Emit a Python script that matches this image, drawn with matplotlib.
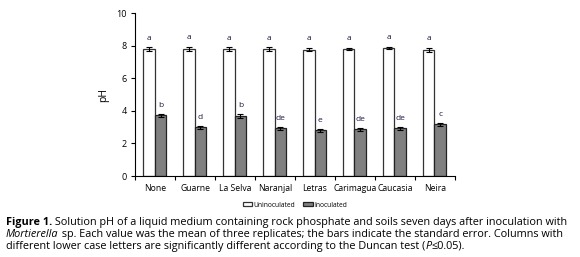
import matplotlib.pyplot as plt
import numpy as np

sites = ['None', 'Guarne', 'La Selva', 'Naranjal', 'Letras', 'Carimagua', 'Caucasia', 'Neira']
uninoc = [7.80, 7.80, 7.80, 7.80, 7.75, 7.80, 7.85, 7.75]
uninoc_se = [0.10, 0.12, 0.10, 0.10, 0.10, 0.08, 0.07, 0.12]
inoc = [3.72, 2.98, 3.68, 2.92, 2.80, 2.88, 2.94, 3.17]
inoc_se = [0.10, 0.08, 0.12, 0.07, 0.09, 0.09, 0.09, 0.07]
uninoc_letters = ['a'] * 8
inoc_letters = ['b', 'd', 'b', 'de', 'e', 'de', 'de', 'c']

plt.rcParams['font.family'] = ['Open Sans', 'DejaVu Sans']

fig = plt.figure(figsize=(5.8, 2.57), dpi=100)
ax = fig.add_axes([0.233, 0.315, 0.551, 0.634])

x = np.arange(len(sites))
w = 0.29
ax.bar(x - 0.155, uninoc, w, color='white', edgecolor='#333333', linewidth=0.9,
       yerr=uninoc_se, error_kw=dict(ecolor='black', elinewidth=0.8, capsize=2, capthick=0.8),
       label='Uninoculated')
ax.bar(x + 0.135, inoc, w, color='#808080', edgecolor='#222222', linewidth=0.9,
       yerr=inoc_se, error_kw=dict(ecolor='black', elinewidth=0.8, capsize=2, capthick=0.8),
       label='Inoculated')

for i in range(len(sites)):
    ax.text(x[i] - 0.155, uninoc[i] + uninoc_se[i] + 0.35, uninoc_letters[i],
            ha='center', va='bottom', fontsize=6, color='#1a1a40')
    ax.text(x[i] + 0.135, inoc[i] + inoc_se[i] + 0.3, inoc_letters[i],
            ha='center', va='bottom', fontsize=6, color='#1a1a40')

ax.set_xlim(-0.5, 7.5)
ax.set_ylim(0, 10)
ax.set_yticks([0, 2, 4, 6, 8, 10])
ax.set_xticks(np.arange(-0.5, 8, 1))
ax.set_xticklabels([])
ax.set_xticks(x, minor=True)
ax.set_xticklabels(sites, minor=True)
ax.tick_params(axis='x', which='minor', length=0, labelsize=6.2, pad=6)
ax.tick_params(axis='x', which='major', length=3, width=0.8, direction='out')
ax.tick_params(axis='y', length=3, width=0.8, direction='out', labelsize=6.5, pad=3)
ax.spines['top'].set_visible(False)
ax.spines['right'].set_visible(False)
ax.spines['left'].set_linewidth(0.8)
ax.spines['bottom'].set_linewidth(0.8)
ax.set_ylabel('pH', fontsize=7.5, labelpad=5)

ax.legend(loc='upper center', bbox_to_anchor=(0.5, -0.12), ncol=2, frameon=False,
          fontsize=4.8, handlelength=1.4, handleheight=0.6, columnspacing=1.2,
          handletextpad=0.2)

# caption built from pieces so bold / italic parts sit inline
caption = [
    [('Figure 1.', 'bold', 'normal'),
     (' Solution pH of a liquid medium containing rock phosphate and soils seven days after inoculation with', 'normal', 'normal')],
    [('Mortierella', 'normal', 'italic'),
     (' sp. Each value was the mean of three replicates; the bars indicate the standard error. Columns with', 'normal', 'normal')],
    [('different lower case letters are significantly different according to the Duncan test (', 'normal', 'normal'),
     ('P', 'normal', 'italic'), ('\u22640.05).', 'normal', 'normal')],
]
fig.canvas.draw()
renderer = fig.canvas.get_renderer()
line_y = [1 - 222 / 257, 1 - 234.5 / 257, 1 - 246.5 / 257]
for pieces, yy in zip(caption, line_y):
    xx = 6 / 580
    for txt, weight, style in pieces:
        t = fig.text(xx, yy, txt, fontsize=7.85, fontweight=weight, fontstyle=style,
                     va='center', ha='left')
        bb = t.get_window_extent(renderer=renderer)
        xx += bb.width / fig.bbox.width

fig.savefig('out.png', dpi=100)
